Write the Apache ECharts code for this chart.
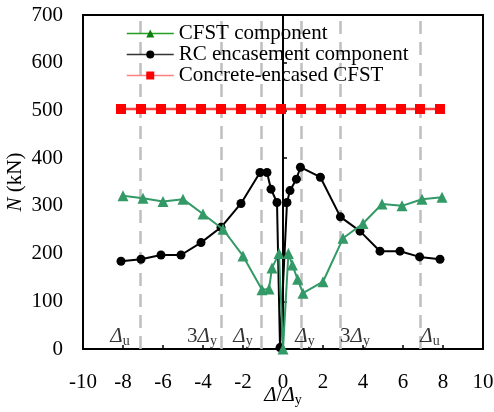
<!DOCTYPE html>
<html>
<head>
<meta charset="utf-8">
<script src="https://cdn.jsdelivr.net/npm/echarts@6/dist/echarts.min.js"></script>
<style>
  html, body { margin: 0; padding: 0; background: #fff; }
  #chart { width: 494px; height: 412px; }
</style>
</head>
<body>
<div id="chart"></div>
<script>
// values (x = Δ/Δy, y = N in kN)
const cfstX = [-8, -7, -6, -5, -4, -3, -2, -1.05, -0.7, -0.55, -0.2, 0, 0.27, 0.47, 0.73, 1, 2, 3, 4, 4.95, 5.95, 6.95, 7.95]
const cfstN = [321, 316, 309, 314, 283, 251, 195, 124, 126, 170, 200, 0, 200, 176, 146, 117, 141, 232, 263, 304, 300, 314, 318]

const rcX = [-8.1, -7.1, -6.1, -5.1, -4.1, -3.1, -2.1, -1.15, -0.8, -0.6, -0.3, -0.15, 0.2, 0.35, 0.67, 0.87, 1.87, 2.87, 3.85, 4.85, 5.85, 6.83, 7.85]
const rcN = [184, 188, 197, 197, 223, 255, 305, 370, 370, 335, 307, 3, 307, 332, 356, 381, 360, 277, 247, 205, 205, 193, 188]

const totalX = [-8.1, -7.1, -6.1, -5.1, -4.1, -3.1, -2.1, -1.1, -0.1, 0.9, 1.9, 2.9, 3.9, 4.9, 5.9, 6.85, 7.85]
const totalN = [503, 503, 503, 503, 503, 503, 503, 503, 503, 503, 503, 503, 503, 503, 503, 503, 503]

// dashed guide lines and their labels
const guideX = [-7.15, -3.1, -1.1, 0.9, 2.85, 6.85]
const noteX = [-8.15, -4.05, -2.0, 1.1, 3.6, 7.35]
const noteText = ['{i|Δ}{s|u}', '{n|3}{i|Δ}{s|y}', '{i|Δ}{s|y}', '{i|Δ}{s|y}', '{n|3}{i|Δ}{s|y}', '{i|Δ}{s|u}']
const noteY = 27

const seriesNames = ['CFST component', 'RC encasement component', 'Concrete-encased CFST']

const serif = '"Liberation Serif", "DejaVu Serif", serif'
const green = '#339966'
const fs = 21

const zip = (xs, ys) => xs.map((x, i) => [x, ys[i]])

const chart = echarts.init(document.getElementById('chart'))

chart.setOption({
  animation: false,
  textStyle: { fontFamily: serif, color: '#000' },
  grid: {
    left: 83, right: 11, top: 15, bottom: 63,
    outerBoundsMode: 'none',
    show: true, borderColor: '#000', borderWidth: 2,
  },
  legend: {
    orient: 'vertical',
    left: 121, top: 18,
    itemWidth: 47, itemHeight: 10, itemGap: 0,
    textStyle: { fontFamily: serif, fontSize: fs, lineHeight: 20, color: '#000' },
    data: [
      { name: seriesNames[0], itemStyle: { color: '#0a7d0a' }, lineStyle: { color: '#22a022', width: 1.5 } },
      { name: seriesNames[1], itemStyle: { color: '#000' }, lineStyle: { color: '#333', width: 1.5 } },
      { name: seriesNames[2], itemStyle: { color: '#ff0000' }, lineStyle: { color: '#ff8080', width: 1.5 } },
    ],
  },
  xAxis: {
    type: 'value', min: -10, max: 10, interval: 2,
    axisLine: { onZero: false, lineStyle: { color: '#000', width: 2 } },
    axisTick: { inside: true, length: 4, lineStyle: { color: '#000', width: 1.5 } },
    axisLabel: { fontFamily: serif, fontSize: fs, color: '#000', margin: 23 },
    splitLine: { show: false },
    name: '{i|Δ}{t|/}{i|Δ}{s|y}',
    nameLocation: 'middle', nameGap: 34, nameMoveOverlap: false,
    nameTextStyle: {
      rich: {
        i: { fontFamily: serif, fontSize: fs, fontStyle: 'italic', color: '#000' },
        t: { fontFamily: serif, fontSize: fs, color: '#000' },
        s: { fontFamily: serif, fontSize: 14, color: '#000', padding: [10, 0, 0, 0] },
      },
    },
  },
  yAxis: {
    type: 'value', min: 0, max: 700, interval: 100,
    axisLine: { show: true, lineStyle: { color: '#000', width: 2 } },
    axisTick: { show: true, inside: true, length: 4, lineStyle: { color: '#000', width: 1.5 } },
    axisLabel: { fontFamily: serif, fontSize: fs, color: '#000', margin: 20 },
    splitLine: { show: false },
    name: '{i|N}{t| (kN)}',
    nameLocation: 'middle', nameGap: 57, nameMoveOverlap: false,
    nameTextStyle: {
      rich: {
        i: { fontFamily: serif, fontSize: fs, fontStyle: 'italic', color: '#000' },
        t: { fontFamily: serif, fontSize: fs, color: '#000' },
      },
    },
  },
  series: [
    {
      // dashed guide lines + their labels
      name: 'notes', type: 'scatter', z: 1,
      symbolSize: 0, silent: true,
      data: noteX.map((x, i) => [x, noteY, noteText[i]]),
      label: {
        show: true, position: 'inside',
        formatter: p => p.data[2],
        rich: {
          i: { fontFamily: serif, fontSize: fs, fontStyle: 'italic', color: '#000' },
          n: { fontFamily: serif, fontSize: fs, color: '#000' },
          s: { fontFamily: serif, fontSize: 14, color: '#000', padding: [10, 0, 0, 0] },
        },
      },
      markLine: {
        silent: true, symbol: 'none', animation: false, z: 1,
        label: { show: false },
        lineStyle: { color: '#bfbfbf', type: [13, 8], width: 2.5 },
        data: guideX.map(x => ({ xAxis: x })),
      },
    },
    {
      name: seriesNames[1], type: 'line', z: 3,
      data: zip(rcX, rcN),
      symbol: 'circle', symbolSize: 9,
      itemStyle: { color: '#000' },
      lineStyle: { color: '#000', width: 2 },
    },
    {
      name: seriesNames[0], type: 'line', z: 4,
      data: zip(cfstX, cfstN),
      symbol: 'triangle', symbolSize: 11,
      itemStyle: { color: green },
      lineStyle: { color: green, width: 2 },
    },
    {
      name: seriesNames[2], type: 'line', z: 5,
      data: zip(totalX, totalN),
      symbol: 'rect', symbolSize: 10,
      itemStyle: { color: '#ff0000' },
      lineStyle: { color: '#ff3a3a', width: 2.5 },
    },
  ],
})
</script>
</body>
</html>
